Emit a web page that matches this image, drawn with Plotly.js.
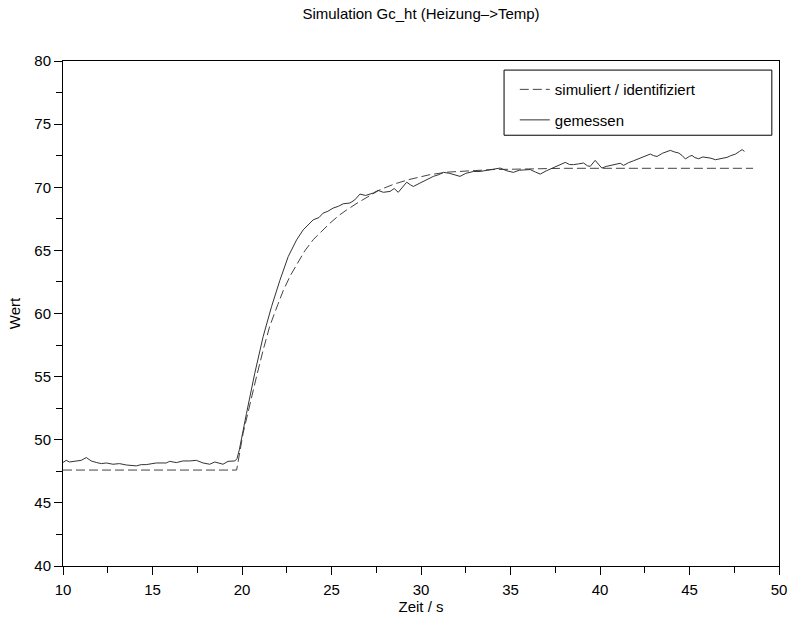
<!DOCTYPE html>
<html>
<head>
<meta charset="utf-8">
<script src="https://cdn.plot.ly/plotly-3.0.1.min.js"></script>
<style>html,body{margin:0;padding:0;background:#fff;}#chart{width:788px;height:622px;}</style>
</head>
<body>
<div id="chart"></div>
<script>
// Simulated / identified response (dashed)
const simT = [10, 19.7, 20.06, 20.5, 20.81, 21.2, 21.55, 22.0, 22.3, 22.7, 23.05, 23.5, 23.98, 24.5, 24.91, 25.4, 25.84, 26.5, 26.96, 27.7, 28.5, 29.3, 30.5, 31.5, 32.74, 34, 36, 38, 48.55];
const simV = [47.6, 47.6, 50.5, 53.2, 55.0, 57.2, 59.0, 60.7, 61.8, 63.0, 63.9, 64.95, 65.85, 66.6, 67.15, 67.75, 68.2, 68.8, 69.2, 69.8, 70.25, 70.6, 71.0, 71.2, 71.3, 71.4, 71.45, 71.5, 71.5];

// Measured response (solid)
const measT = [10.0, 10.18, 10.36, 10.74, 11.02, 11.3, 11.58, 11.86, 12.14, 12.42, 12.79, 13.16, 13.54, 14.1, 14.37, 14.65, 15.21, 15.77, 15.96, 16.33, 16.7, 17.08, 17.45, 17.82, 18.2, 18.48, 18.94, 19.22, 19.6, 19.72, 19.85, 20.25, 20.71, 21.18, 21.65, 22.11, 22.58, 23.05, 23.42, 23.98, 24.3, 24.53, 24.8, 25.09, 25.4, 25.65, 26.03, 26.3, 26.59, 26.9, 27.33, 27.6, 27.9, 28.27, 28.5, 28.73, 29.0, 29.2, 29.4, 29.57, 29.94, 30.3, 30.69, 31.0, 31.25, 31.6, 31.9, 32.18, 32.5, 32.93, 33.3, 33.67, 34.0, 34.42, 34.8, 35.16, 35.5, 36.1, 36.4, 36.66, 37.0, 37.22, 37.5, 37.78, 38.06, 38.3, 38.52, 38.8, 39.08, 39.3, 39.45, 39.73, 40.1, 40.35, 40.57, 40.85, 41.13, 41.32, 41.6, 41.88, 42.2, 42.5, 42.81, 43.0, 43.19, 43.5, 43.93, 44.15, 44.4, 44.6, 44.77, 45.0, 45.14, 45.3, 45.51, 45.75, 45.98, 46.2, 46.45, 46.8, 47.1, 47.3, 47.57, 47.8, 47.94, 48.07];
const measV = [48.2, 48.37, 48.24, 48.32, 48.37, 48.59, 48.32, 48.2, 48.11, 48.16, 48.06, 48.11, 48.0, 47.93, 48.03, 48.03, 48.16, 48.16, 48.29, 48.19, 48.32, 48.32, 48.37, 48.16, 48.06, 48.24, 48.06, 48.29, 48.32, 48.5, 49.2, 52.08, 55.25, 58.16, 60.54, 62.6, 64.5, 65.83, 66.63, 67.42, 67.6, 67.95, 68.1, 68.35, 68.5, 68.69, 68.75, 69.0, 69.46, 69.35, 69.54, 69.75, 69.6, 69.67, 69.9, 69.6, 70.1, 70.4, 70.2, 70.06, 70.33, 70.6, 70.86, 71.0, 71.18, 71.1, 71.0, 70.86, 71.1, 71.25, 71.25, 71.33, 71.4, 71.52, 71.3, 71.18, 71.35, 71.4, 71.2, 71.04, 71.3, 71.44, 71.6, 71.79, 71.97, 71.8, 71.79, 71.85, 71.92, 71.7, 71.65, 72.13, 71.52, 71.65, 71.71, 71.8, 71.9, 71.73, 71.95, 72.1, 72.3, 72.45, 72.63, 72.5, 72.44, 72.7, 72.92, 72.8, 72.71, 72.5, 72.24, 72.45, 72.52, 72.35, 72.26, 72.4, 72.37, 72.3, 72.18, 72.25, 72.37, 72.5, 72.63, 72.85, 72.98, 72.84];

const xTickVals = [10, 15, 20, 25, 30, 35, 40, 45, 50];
const yTickVals = [40, 45, 50, 55, 60, 65, 70, 75, 80];
const seriesNames = ['simuliert / identifiziert', 'gemessen'];

const FONT = 'Liberation Sans, Arial, Helvetica, sans-serif';
const FS = 15;

const traces = [
  {x: simT, y: simV, type: 'scatter', mode: 'lines', name: seriesNames[0], legendgroup: 'a',
   line: {color: '#444', width: 1, dash: '9px,4px'}},
  {x: measT, y: measV, type: 'scatter', mode: 'lines', name: seriesNames[1], legendgroup: 'b',
   line: {color: '#333', width: 1}}
];

const axisCommon = {
  showgrid: false, zeroline: false, showline: true, mirror: true,
  linecolor: '#000', linewidth: 1, ticks: 'outside', ticklen: 8, tickwidth: 1, tickcolor: '#000',
  tickfont: {family: FONT, size: FS, color: '#000'},
  minor: {ticks: 'outside', ticklen: 6, tickwidth: 1, tickcolor: '#000', dtick: 2.5}
};

const layout = {
  width: 788, height: 622,
  margin: {l: 63, r: 9, t: 61, b: 56},
  paper_bgcolor: '#fff', plot_bgcolor: '#fff',
  font: {family: FONT, size: FS, color: '#000'},
  title: {text: 'Simulation Gc_ht (Heizung–>Temp)', font: {family: FONT, size: FS, color: '#000'},
          x: 0.5, xref: 'paper', xanchor: 'center', y: 0.9775, yref: 'container', yanchor: 'middle'},
  xaxis: Object.assign({}, axisCommon, {range: [10, 50], tickvals: xTickVals, ticklabelstandoff: 2,
          title: {text: 'Zeit / s', font: {family: FONT, size: FS, color: '#000'}, standoff: 0}}),
  yaxis: Object.assign({}, axisCommon, {range: [40, 80], tickvals: yTickVals,
          title: {text: 'Wert', font: {family: FONT, size: FS, color: '#000'}, standoff: 10}}),
  showlegend: true,
  legend: {x: 0.631, xanchor: 'left', y: 0.976, yanchor: 'top', borderwidth: 0, bgcolor: 'rgba(0,0,0,0)',
           traceorder: 'grouped', tracegroupgap: 8, font: {family: FONT, size: FS, color: '#000'}},
  shapes: [{type: 'rect', xref: 'paper', yref: 'paper', x0: 0.616, x1: 0.990, y0: 0.853, y1: 0.982,
            line: {color: '#000', width: 1}, fillcolor: 'rgba(0,0,0,0)', layer: 'above'}]
};

Plotly.newPlot('chart', traces, layout, {displayModeBar: false, staticPlot: true});
</script>
</body>
</html>
